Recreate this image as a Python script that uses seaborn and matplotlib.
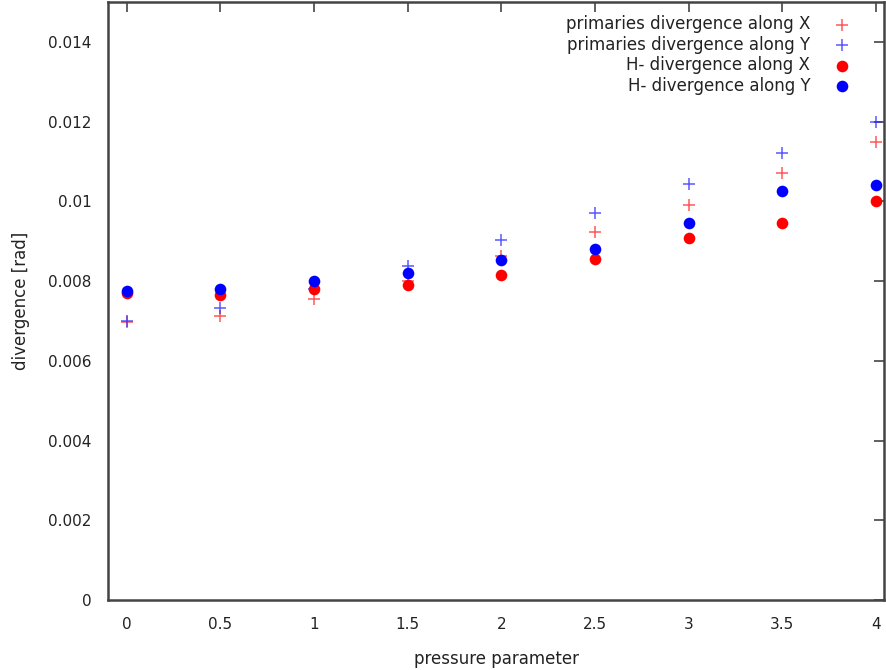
import numpy as np
import pandas as pd
import matplotlib
matplotlib.use("Agg")
import matplotlib.pyplot as plt
import seaborn as sns
from matplotlib.ticker import FuncFormatter

pressure = [0, 0.5, 1, 1.5, 2, 2.5, 3, 3.5, 4]
prim_x = [0.00698, 0.00713, 0.00755, 0.0080, 0.00863, 0.00923, 0.0099, 0.0107, 0.01148]
prim_y = [0.00700, 0.00733, 0.0078, 0.00838, 0.00903, 0.0097, 0.01043, 0.0112, 0.01198]
h_x = [0.00770, 0.00765, 0.0078, 0.0079, 0.00815, 0.00855, 0.00908, 0.00945, 0.0100]
h_y = [0.00775, 0.0078, 0.0080, 0.0082, 0.00852, 0.0088, 0.00945, 0.01027, 0.0104]

sns.set_style("white")
plt.rcParams['font.family'] = ['DejaVu Sans']

fig = plt.figure(figsize=(8.86, 6.7), dpi=100)
ax = fig.add_axes([0.122, 0.1045, 0.876, 0.8925])

sns.scatterplot(x=pressure, y=prim_x, marker="+", color="#ff3030", s=70, linewidth=1.1,
                alpha=0.8, label="primaries divergence along X", ax=ax)
sns.scatterplot(x=pressure, y=prim_y, marker="+", color="#3030ff", s=70, linewidth=1.1,
                alpha=0.8, label="primaries divergence along Y", ax=ax)
sns.scatterplot(x=pressure, y=h_x, marker="o", color="red", s=70, linewidth=0,
                label="H- divergence along X", ax=ax)
sns.scatterplot(x=pressure, y=h_y, marker="o", color="blue", s=70, linewidth=0,
                label="H- divergence along Y", ax=ax)

ax.set_xlim(-0.1, 4.045)
ax.set_ylim(0, 0.015)
ax.set_xticks(pressure)
ax.set_yticks(np.arange(0, 0.0141, 0.002))
fmt = FuncFormatter(lambda v, p: "%g" % round(v, 6))
ax.xaxis.set_major_formatter(fmt)
ax.yaxis.set_major_formatter(fmt)
ax.tick_params(direction="in", length=7, width=1.2, color="#444444",
               top=True, right=True, labelsize=11, labelcolor="#222222")
ax.tick_params(axis="x", pad=12)
ax.tick_params(axis="y", pad=12)
for sp in ax.spines.values():
    sp.set_color("#444444")
    sp.set_linewidth(1.8)

ax.set_xlabel("pressure parameter", fontsize=12, color="#222222", labelpad=13)
ax.set_ylabel("divergence [rad]", fontsize=12, color="#222222", labelpad=13)

leg = ax.legend(loc="upper right", frameon=False, markerfirst=False, fontsize=12,
                handletextpad=0.9, labelspacing=0.15, borderaxespad=0.4,
                bbox_to_anchor=(0.984, 1.0))
for t in leg.get_texts():
    t.set_ha("right")
    t.set_color("#222222")
leg._legend_box.align = "right"

plt.savefig("out.png", dpi=100)
